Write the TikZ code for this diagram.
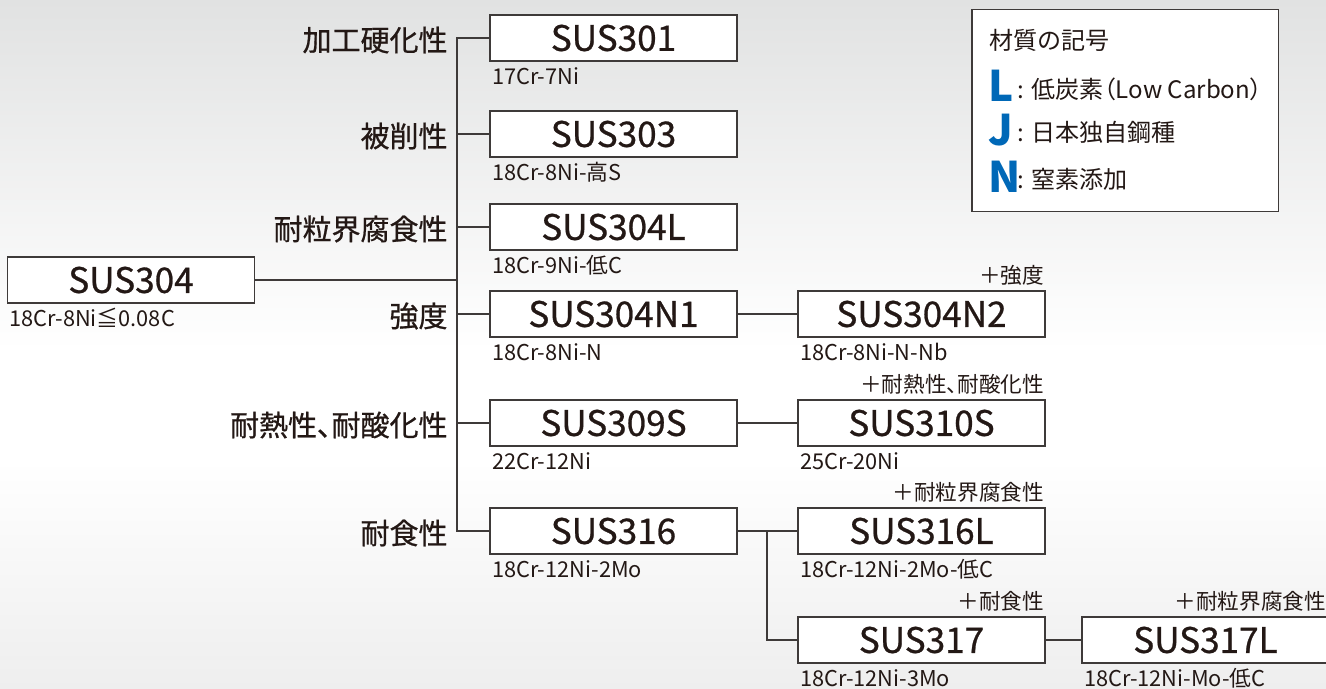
\documentclass[tikz,border=0pt]{standalone}
\usepackage{fontspec}
\setmainfont{Noto Sans CJK JP}[RawFeature=+palt]
\newfontfamily\medium{Noto Sans CJK JP}[FakeBold=0.7, RawFeature=+palt]
\usepackage{tikz}
\usetikzlibrary{positioning}

\definecolor{ink}{HTML}{231815}
\definecolor{wire}{HTML}{3E3A39}
\definecolor{keyblue}{HTML}{0068B7}
\definecolor{bgtop}{HTML}{E1E2E2}
\definecolor{bgbot}{HTML}{EEEEEE}

\begin{document}
\begin{tikzpicture}[x=0.02cm, y=-0.02cm, line width=0.85pt, text=ink]
    % Styles
    \tikzstyle{grade}=[rectangle, draw=wire, fill=white, minimum width=4.94cm, minimum height=0.92cm, inner sep=0pt, font=\medium\fontsize{20pt}{22pt}\selectfont]
    \tikzstyle{cat}=[inner sep=0pt, yshift=-0.04cm, font=\medium\fontsize{16.5pt}{18pt}\selectfont]
    \tikzstyle{comp}=[inner sep=0pt, text height=0.8em, text depth=0.2em, font=\fontsize{12.4pt}{14pt}\selectfont]
    \tikzstyle{plus}=[inner sep=0pt, text height=0.85em, text depth=0.12em, font=\fontsize{12.3pt}{14pt}\selectfont]
    \tikzstyle{key}=[inner sep=0pt, text=keyblue, font=\fontsize{24pt}{26pt}\selectfont\bfseries]
    \tikzstyle{keytext}=[inner sep=0pt, font=\fontsize{13.7pt}{15pt}\selectfont]
    \tikzstyle{wire}=[draw=wire]

    % Background
    \useasboundingbox (0,0) rectangle (1326,689);
    \shade[top color=bgtop, bottom color=white] (0,0) rectangle (1326,350);
    \fill[white] (0,349) rectangle (1326,461);
    \shade[top color=white, bottom color=bgbot] (0,460) rectangle (1326,689);

    % Base grade
    \node (b304) [grade] at (131,280) {SUS304};

    % Middle column
    \node (b301) [grade] at (613.5,38) {SUS301};
    \node (b303) [grade] at (613.5,134) {SUS303};
    \node (b304l) [grade] at (613.5,227) {SUS304L};
    \node (b304n1) [grade] at (613.5,314) {SUS304N1};
    \node (b309s) [grade] at (613.5,423) {SUS309S};
    \node (b316) [grade] at (613.5,531) {SUS316};

    % Right column
    \node (b304n2) [grade] at (921.5,314) {SUS304N2};
    \node (b310s) [grade] at (921.5,423) {SUS310S};
    \node (b316l) [grade] at (921.5,531) {SUS316L};
    \node (b317) [grade] at (921.5,640) {SUS317};
    \node (b317l) [grade] at (1205.5,640) {SUS317L};

    % Compositions
    \node (s304) [comp, below right=0.16cm and 0.04cm of b304.south west] {18Cr-8Ni≦0.08C};
    \node (s301) [comp, below right=0.16cm and 0.04cm of b301.south west] {17Cr-7Ni};
    \node (s303) [comp, below right=0.16cm and 0.04cm of b303.south west] {18Cr-8Ni-高S};
    \node (s304l) [comp, below right=0.16cm and 0.04cm of b304l.south west] {18Cr-9Ni-低C};
    \node (s304n1) [comp, below right=0.16cm and 0.04cm of b304n1.south west] {18Cr-8Ni-N};
    \node (s309s) [comp, below right=0.16cm and 0.04cm of b309s.south west] {22Cr-12Ni};
    \node (s316) [comp, below right=0.16cm and 0.04cm of b316.south west] {18Cr-12Ni-2Mo};
    \node (s304n2) [comp, below right=0.16cm and 0.04cm of b304n2.south west] {18Cr-8Ni-N-Nb};
    \node (s310s) [comp, below right=0.16cm and 0.04cm of b310s.south west] {25Cr-20Ni};
    \node (s316l) [comp, below right=0.16cm and 0.04cm of b316l.south west] {18Cr-12Ni-2Mo-低C};
    \node (s317) [comp, below right=0.16cm and 0.04cm of b317.south west] {18Cr-12Ni-3Mo};
    \node (s317l) [comp, below right=0.16cm and 0.04cm of b317l.south west] {18Cr-12Ni-Mo-低C};

    % Added properties
    \node (p304n2) [plus, above left=0.08cm and 0.02cm of b304n2.north east] {＋強度};
    \node (p310s) [plus, above left=0.08cm and 0.02cm of b310s.north east] {＋耐熱性、耐酸化性};
    \node (p316l) [plus, above left=0.08cm and 0.02cm of b316l.north east] {＋耐粒界腐食性};
    \node (p317) [plus, above left=0.08cm and 0.02cm of b317.north east] {＋耐食性};
    \node (p317l) [plus, above left=0.08cm and 0.06cm of b317l.north east] {＋耐粒界腐食性};

    % Properties
    \node (c301) [cat, left=0.82cm of b301.west] {加工硬化性};
    \node (c303) [cat, left=0.82cm of b303.west] {被削性};
    \node (c304l) [cat, left=0.82cm of b304l.west] {耐粒界腐食性};
    \node (c304n1) [cat, left=0.82cm of b304n1.west] {強度};
    \node (c309s) [cat, left=0.82cm of b309s.west] {耐熱性、耐酸化性};
    \node (c316) [cat, left=0.82cm of b316.west] {耐食性};

    % Tree lines
    \coordinate (trunk) at (457,36);
    \coordinate (split) at (767,531);
    \draw[wire] (b301.west) -- (b301.west -| trunk) |- (b316.west);
    \foreach \g in {b303,b304l,b304n1,b309s}
        \draw[wire] (\g.west) -- (\g.west -| trunk);
    \draw[wire] (b304.east) -- (b304.east -| trunk);
    \draw[wire] (b304n1) -- (b304n2);
    \draw[wire] (b309s) -- (b310s);
    \draw[wire] (b316) -- (b316l);
    \draw[wire] (split) |- (b317.west);
    \draw[wire] (b317) -- (b317l);

    % Legend
    \node (legend) [rectangle, draw=wire, fill=white, anchor=north west, minimum width=6.14cm, minimum height=4.04cm] at (971,9) {};
    \node (ltitle) [keytext, anchor=west] at (989,40) {材質の記号};
    \node (kl) [key, anchor=west] at (988,86) {L};
    \node (kj) [key, anchor=west] at (988,130) {J};
    \node (kn) [key, anchor=west] at (988,177) {N};
    \node (tl) [keytext, anchor=west] at (1017,89) {: 低炭素（Low Carbon）};
    \node (tj) [keytext, anchor=west] at (1017,132) {: 日本独自鋼種};
    \node (tn) [keytext, anchor=west] at (1017,179) {: 窒素添加};
\end{tikzpicture}
\end{document}
